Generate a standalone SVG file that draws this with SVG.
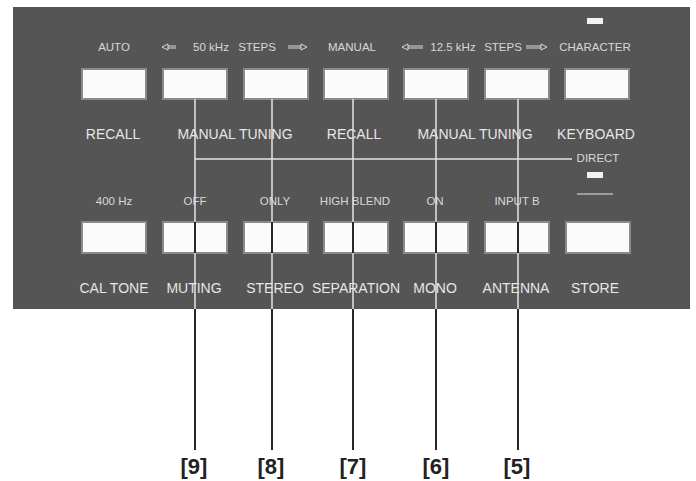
<svg xmlns="http://www.w3.org/2000/svg" width="696" height="481" viewBox="0 0 696 481">
<defs>
<style>
.panel{fill:#555555}
.btn{fill:#fbfbfb;stroke:#8a8a8a;stroke-width:2}
.sm{font-family:"Liberation Sans",Arial,sans-serif;font-size:11.5px;fill:#d8d8d8;text-anchor:middle}
.lg{font-family:"Liberation Sans",Arial,sans-serif;font-size:14px;fill:#e6e6e6;text-anchor:middle}
.num{font-family:"Liberation Sans",Arial,sans-serif;font-size:22px;font-weight:bold;fill:#222;text-anchor:middle}
.lt{stroke:#e4e4e4;stroke-width:1.5;fill:none}
.dk{stroke:#111;stroke-width:1.8;fill:none}
.arr{stroke:#d8d8d8;stroke-width:1;fill:none}
.led{fill:#f2f2f2}
</style>
</defs>
<rect width="696" height="481" fill="#ffffff"/>
<rect id="panel" class="panel" x="13" y="7" width="677" height="302"/>

<g id="top-labels">
<text class="sm" x="114" y="51">AUTO</text>
<path class="arr" d="M162 47 L168 44 L168 50 Z M168 46 L176 46 M168 48 L176 48"/>
<text class="sm" x="211" y="51">50 kHz</text>
<text class="sm" x="257" y="51">STEPS</text>
<path class="arr" d="M307 47 L301 44 L301 50 Z M301 46 L288 46 M301 48 L288 48"/>
<text class="sm" x="352" y="51">MANUAL</text>
<path class="arr" d="M402 47 L408 44 L408 50 Z M408 46 L423 46 M408 48 L423 48"/>
<text class="sm" x="453" y="51">12.5 kHz</text>
<text class="sm" x="503" y="51">STEPS</text>
<path class="arr" d="M547 47 L541 44 L541 50 Z M541 46 L526 46 M541 48 L526 48"/>
<text class="sm" x="595" y="51">CHARACTER</text>
<rect class="led" x="587" y="18" width="16" height="6"/>
</g>

<g id="btn-auto-recall"><rect class="btn" x="82" y="69" width="64" height="30"/><text class="lg" x="113" y="139">RECALL</text></g>
<g id="btn-down-50"><rect class="btn" x="163" y="69" width="64" height="30"/></g>
<g id="btn-up-50"><rect class="btn" x="244" y="69" width="64" height="30"/></g>
<text class="lg" x="235" y="139">MANUAL TUNING</text>
<g id="btn-manual-recall"><rect class="btn" x="324" y="69" width="64" height="30"/><text class="lg" x="354" y="139">RECALL</text></g>
<g id="btn-down-12"><rect class="btn" x="404" y="69" width="64" height="30"/></g>
<g id="btn-up-12"><rect class="btn" x="485" y="69" width="64" height="30"/></g>
<text class="lg" x="475" y="139">MANUAL TUNING</text>
<g id="btn-keyboard"><rect class="btn" x="565" y="69" width="64" height="30"/><text class="lg" x="596" y="139">KEYBOARD</text></g>

<g id="bottom-labels">
<text class="sm" x="114" y="205">400 Hz</text>
<text class="sm" x="195" y="205">OFF</text>
<text class="sm" x="275" y="205">ONLY</text>
<text class="sm" x="355" y="205">HIGH BLEND</text>
<text class="sm" x="435" y="205">ON</text>
<text class="sm" x="517" y="205">INPUT  B</text>
<text class="sm" x="598" y="162">DIRECT</text>
<rect class="led" x="587" y="172" width="16" height="6"/>
<line class="lt" x1="577" y1="194" x2="613" y2="194" style="stroke-width:1"/>
</g>

<g id="btn-cal-tone"><rect class="btn" x="82" y="222" width="64" height="31"/><text class="lg" x="114" y="293">CAL TONE</text></g>
<g id="btn-muting"><rect class="btn" x="163" y="222" width="64" height="31"/><text class="lg" x="194" y="293">MUTING</text></g>
<g id="btn-stereo-only"><rect class="btn" x="244" y="222" width="64" height="31"/><text class="lg" x="275" y="293">STEREO</text></g>
<g id="btn-separation"><rect class="btn" x="324" y="222" width="64" height="31"/><text class="lg" x="356" y="293">SEPARATION</text></g>
<g id="btn-mono"><rect class="btn" x="404" y="222" width="64" height="31"/><text class="lg" x="435" y="293">MONO</text></g>
<g id="btn-antenna"><rect class="btn" x="485" y="222" width="64" height="31"/><text class="lg" x="516" y="293">ANTENNA</text></g>
<g id="btn-store"><rect class="btn" x="566" y="222" width="64" height="31"/><text class="lg" x="595" y="293">STORE</text></g>

<g id="connectors">
<line class="lt" x1="195" y1="159" x2="572" y2="159"/>
<path class="lt" d="M195 99 V222 M195 253 V309 M272 99 V222 M272 253 V309 M353 99 V222 M353 253 V309 M436 99 V222 M436 253 V309 M518 99 V222 M518 253 V309"/>
<path class="dk" d="M195 222 V253 M272 222 V253 M353 222 V253 M436 222 V253 M518 222 V253"/>
<path class="dk" d="M195 309 V450 M272 309 V450 M353 309 V450 M436 309 V450 M518 309 V450"/>
</g>

<g id="callouts">
<text class="num" x="194" y="474">[9]</text>
<text class="num" x="271" y="474">[8]</text>
<text class="num" x="353" y="474">[7]</text>
<text class="num" x="436" y="474">[6]</text>
<text class="num" x="517" y="474">[5]</text>
</g>
</svg>
